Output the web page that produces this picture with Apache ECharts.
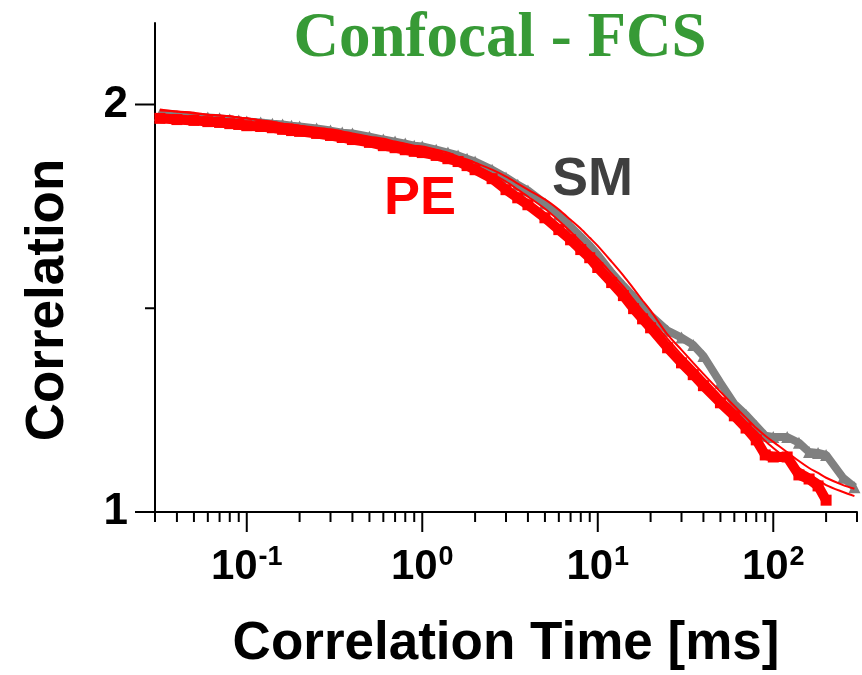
<!DOCTYPE html>
<html>
<head>
<meta charset="utf-8">
<script src="https://cdn.jsdelivr.net/npm/echarts@6/dist/echarts.min.js"></script>
<style>
  html, body { margin: 0; padding: 0; background: #fff; }
  #chart { width: 862px; height: 675px; }
</style>
</head>
<body>
<div id="chart"></div>
<script>
// Lag times (ms)
const tau = [0.032, 0.04, 0.05, 0.06, 0.07, 0.08, 0.09, 0.1, 0.12, 0.14, 0.16, 0.18, 0.2, 0.25, 0.3, 0.35, 0.4, 0.5, 0.6, 0.7, 0.8, 0.9,
  1, 1.2, 1.4, 1.6, 1.8, 2, 2.5, 3, 3.5, 4, 5, 6, 7, 8, 9,
  10, 12, 14, 16, 18, 20, 25, 30, 35, 40, 50, 60, 70, 80, 90,
  100, 120, 140, 160, 180, 200, 250, 290];

// Measured correlation, PE
const pe = [1.966, 1.963, 1.961, 1.958, 1.956, 1.953, 1.951, 1.948, 1.946, 1.943, 1.939, 1.936, 1.934, 1.929, 1.924, 1.919, 1.914, 1.907, 1.899, 1.894, 1.889, 1.885,
  1.882, 1.875, 1.867, 1.860, 1.850, 1.840, 1.818, 1.791, 1.771, 1.754, 1.722, 1.693, 1.668, 1.644, 1.624,
  1.600, 1.563, 1.531, 1.499, 1.474, 1.452, 1.403, 1.366, 1.337, 1.310, 1.268, 1.236, 1.206, 1.177, 1.140,
  1.135, 1.135, 1.091, 1.081, 1.064, 1.029, null, null];

// Measured correlation, SM
const sm = [1.975, 1.971, 1.968, 1.968, 1.966, 1.963, 1.961, 1.958, 1.956, 1.953, 1.951, 1.948, 1.946, 1.941, 1.936, 1.931, 1.929, 1.921, 1.914, 1.909, 1.904, 1.899,
  1.897, 1.889, 1.882, 1.875, 1.867, 1.860, 1.840, 1.821, 1.803, 1.789, 1.757, 1.730, 1.700, 1.676, 1.654,
  1.631, 1.587, 1.555, 1.528, 1.504, 1.482, 1.445, 1.428, 1.410, 1.383, 1.317, 1.265, 1.238, 1.211, 1.187,
  1.184, 1.184, 1.170, 1.147, 1.145, 1.140, 1.084, 1.061];

// Fitted curves
const fitSm = [1.988, 1.983, 1.980, 1.975, 1.973, 1.971, 1.968, 1.966, 1.961, 1.958, 1.953, 1.951, 1.948, 1.943, 1.939, 1.934, 1.929, 1.921, 1.916, 1.909, 1.904, 1.899,
  1.897, 1.889, 1.882, 1.872, 1.865, 1.857, 1.840, 1.823, 1.806, 1.791, 1.767, 1.742, 1.717, 1.695, 1.673,
  1.653, 1.614, 1.580, 1.548, 1.519, 1.494, 1.435, 1.398, 1.366, 1.339, 1.295, 1.260, 1.231, 1.206, 1.187,
  1.172, 1.147, 1.125, 1.108, 1.096, 1.084, 1.066, 1.057];

const fitPe = [1.985, 1.983, 1.978, 1.975, 1.973, 1.971, 1.968, 1.966, 1.961, 1.958, 1.953, 1.951, 1.948, 1.941, 1.936, 1.931, 1.926, 1.919, 1.912, 1.907, 1.899, 1.894,
  1.889, 1.882, 1.875, 1.865, 1.857, 1.850, 1.830, 1.811, 1.791, 1.774, 1.744, 1.715, 1.688, 1.663, 1.641,
  1.622, 1.585, 1.553, 1.521, 1.494, 1.472, 1.425, 1.386, 1.356, 1.329, 1.285, 1.251, 1.221, 1.197, 1.174,
  1.157, 1.130, 1.108, 1.093, 1.079, 1.066, 1.049, 1.039];

// Axis ranges and ticks
const xMin = 0.03, xMax = 300;
const yMin = 1, yMax = 2.2;
const xMajorTicks = [0.1, 1, 10, 100];
const xMinorTicks = [0.03, 0.04, 0.05, 0.06, 0.07, 0.08, 0.09,
  0.2, 0.3, 0.4, 0.5, 0.6, 0.7, 0.8, 0.9,
  2, 3, 4, 5, 6, 7, 8, 9,
  20, 30, 40, 50, 60, 70, 80, 90,
  200, 300];
const yMajorTicks = [1, 2];
const yMinorTicks = [1.5];

const pairs = (ys) => tau.map((t, i) => [t, ys[i]]).filter(p => p[1] !== null);

const SANS = '"Liberation Sans", Arial, sans-serif';
const SERIF = '"Liberation Serif", "Times New Roman", serif';

function tickSeries(data, renderTick) {
  return {
    type: 'custom',
    coordinateSystem: 'cartesian2d',
    silent: true,
    clip: false,
    z: 5,
    data: data,
    renderItem: (params, api) => {
      const p = api.coord([api.value(0), api.value(1)]);
      return renderTick(p);
    }
  };
}

const chart = echarts.init(document.getElementById('chart'), null, { renderer: 'canvas' });

chart.setOption({
  animation: false,
  backgroundColor: '#ffffff',
  grid: { left: 155, right: 5, top: 23, bottom: 163, containLabel: false, outerBoundsMode: 'none' },
  xAxis: {
    type: 'log',
    logBase: 10,
    min: xMin,
    max: xMax,
    axisLine: { lineStyle: { color: '#000', width: 2 } },
    axisTick: { show: false },
    splitLine: { show: false },
    minorTick: { show: false },
    axisLabel: {
      margin: 32,
      showMinLabel: true,
      showMaxLabel: true,
      formatter: (v) => {
        const e = Math.log10(v);
        const k = Math.round(e);
        if (Math.abs(e - k) > 1e-6) return '';
        return '{b|10}{s|' + (k < 0 ? '-' + (-k) : k) + '}';
      },
      rich: {
        b: { fontFamily: SANS, fontWeight: 'bold', fontSize: 42, color: '#000', lineHeight: 44, verticalAlign: 'bottom' },
        s: { fontFamily: SANS, fontWeight: 'bold', fontSize: 27, color: '#000', lineHeight: 44, verticalAlign: 'top', padding: [0, 0, 0, 1] }
      }
    },
    name: 'Correlation Time [ms]',
    nameLocation: 'middle',
    nameGap: 106,
    nameTextStyle: { fontFamily: SANS, fontWeight: 'bold', fontSize: 53, color: '#000' }
  },
  yAxis: {
    type: 'value',
    min: yMin,
    max: yMax,
    interval: 1,
    axisLine: { show: true, lineStyle: { color: '#000', width: 2 } },
    axisTick: { show: false },
    splitLine: { show: false },
    axisLabel: {
      margin: 27,
      showMaxLabel: false,
      fontFamily: SANS,
      fontWeight: 'bold',
      fontSize: 44,
      color: '#000',
      formatter: (v) => (yMajorTicks.indexOf(v) >= 0 ? String(v) : '')
    }
  },
  graphic: [
    {
      type: 'text',
      x: 500, y: 40,
      style: { text: 'Confocal - FCS', font: 'bold 63px ' + SERIF, fill: '#379a36', align: 'center', verticalAlign: 'middle' }
    },
    {
      type: 'text',
      x: 48, y: 300,
      rotation: Math.PI / 2,
      style: { text: 'Correlation', font: 'bold 53px ' + SANS, fill: '#000', align: 'center', verticalAlign: 'middle' }
    },
    {
      type: 'text',
      x: 552, y: 180,
      style: { text: 'SM', font: 'bold 54px ' + SANS, fill: '#3f3f3f', align: 'left', verticalAlign: 'middle' }
    },
    {
      type: 'text',
      x: 384, y: 199,
      style: { text: 'PE', font: 'bold 54px ' + SANS, fill: '#ff0000', align: 'left', verticalAlign: 'middle' }
    }
  ],
  series: [
    {
      name: 'SM',
      type: 'line',
      data: pairs(sm),
      symbol: 'triangle',
      symbolSize: 12,
      showAllSymbol: true,
      itemStyle: { color: '#808080' },
      lineStyle: { color: '#808080', width: 8 },
      z: 2
    },
    {
      name: 'PE',
      type: 'line',
      data: pairs(pe),
      symbol: 'rect',
      symbolSize: 11,
      showAllSymbol: true,
      itemStyle: { color: '#ff0000' },
      lineStyle: { color: '#ff0000', width: 10 },
      z: 3
    },
    {
      name: 'SM fit',
      type: 'line',
      data: pairs(fitSm),
      symbol: 'none',
      smooth: 0.3,
      lineStyle: { color: '#ff0000', width: 2 },
      z: 4
    },
    {
      name: 'PE fit',
      type: 'line',
      data: pairs(fitPe),
      symbol: 'none',
      smooth: 0.3,
      lineStyle: { color: '#ff0000', width: 2 },
      z: 4
    },
    tickSeries(xMajorTicks.map(v => [v, yMin]), p => ({
      type: 'line', shape: { x1: p[0], y1: p[1], x2: p[0], y2: p[1] + 20 }, style: { stroke: '#000', lineWidth: 2 }
    })),
    tickSeries(xMinorTicks.map(v => [v, yMin]), p => ({
      type: 'line', shape: { x1: p[0], y1: p[1], x2: p[0], y2: p[1] + 10 }, style: { stroke: '#000', lineWidth: 2 }
    })),
    tickSeries(yMajorTicks.map(v => [xMin, v]), p => ({
      type: 'line', shape: { x1: p[0], y1: p[1], x2: p[0] - 20, y2: p[1] }, style: { stroke: '#000', lineWidth: 2 }
    })),
    tickSeries(yMinorTicks.map(v => [xMin, v]), p => ({
      type: 'line', shape: { x1: p[0], y1: p[1], x2: p[0] - 10, y2: p[1] }, style: { stroke: '#000', lineWidth: 2 }
    }))
  ]
});
</script>
</body>
</html>
